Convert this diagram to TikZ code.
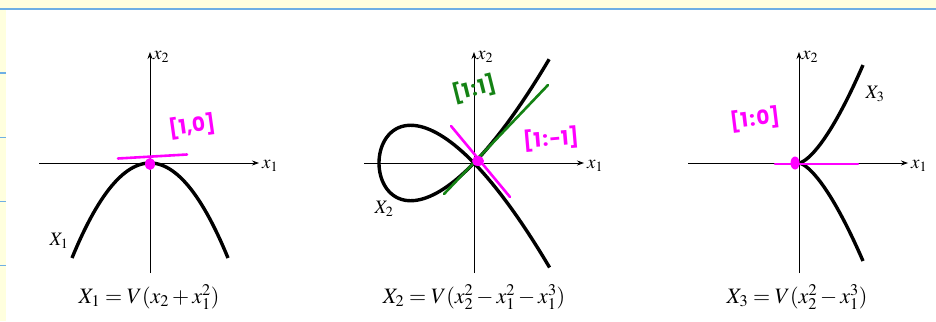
\documentclass[tikz,border=0pt]{standalone}
\usepackage{mathptmx}
\usepackage[no-math]{fontspec}
\newfontfamily\handfont{Poppins}
\usetikzlibrary{arrows.meta}
\definecolor{padyellow}{RGB}{255,255,222}
\definecolor{padblue}{RGB}{110,175,228}
\definecolor{inkmag}{RGB}{255,0,255}
\definecolor{inkgreen}{RGB}{20,130,20}
\newcommand{\hcol}{\kern1.5pt:\kern1.5pt}
\tikzset{
  axis/.style={line width=0.8pt,-{Stealth[length=7pt,width=5pt]}},
  curve/.style={line width=3.4pt,line cap=butt},
  lbl/.style={inner sep=0pt,font=\fontsize{19}{22}\selectfont},
  captext/.style={inner sep=0pt,font=\fontsize{22}{26}\selectfont},
  hand/.style={inner sep=0pt,font=\handfont\bfseries\fontsize{20}{23}\selectfont},
  magline/.style={inkmag,line width=2.6pt,line cap=round},
  grnline/.style={inkgreen,line width=2.6pt,line cap=round},
}
\begin{document}
\begin{tikzpicture}[x=1pt,y=-1pt]
\useasboundingbox (0,0) rectangle (936,321);
% background
\fill[white] (0,0) rectangle (936,321);
\fill[padyellow] (0,0) rectangle (936,8);
\fill[padblue] (0,8) rectangle (936,9.6);
\fill[padyellow] (0,9.6) rectangle (6,321);
\foreach \yy in {72,136.5,200.5,264.5} \fill[padblue] (0,\yy) rectangle (6,\yy+1.6);

% ---------- panel 1 ----------
\coordinate (o1) at (150,163);
\coordinate (a1l) at (39,163);
\coordinate (a1r) at (259,163);
\coordinate (a1b) at (150,273);
\coordinate (a1t) at (150,52);
\draw[axis] (a1l) -- (a1r);
\draw[axis] (a1b) -- (a1t);
\node[lbl,anchor=west] (x1a) at (262,166) {$x_1$};
\node[lbl,anchor=west] (x2a) at (153,57) {$x_2$};
\draw[curve] plot[domain=-78:78,samples=60] ({150+\x},{163+95*(\x/78)^2});
\node[lbl] (X1) at (59,241) {$X_1$};
\node[captext] (c1) at (149,297) {$X_1=V(x_2+x_1^2)$};
\coordinate (m1a) at (118,158.5);
\coordinate (m1b) at (187,154.5);
\draw[magline] (m1a) -- (m1b);
\fill[inkmag] (150,164) ellipse (5pt and 6pt);
\node[hand,inkmag,rotate=8] (t1) at (192,126) {[1,0]};

% ---------- panel 2 ----------
\coordinate (o2) at (474,163);
\coordinate (a2l) at (364,163);
\coordinate (a2r) at (584,163);
\coordinate (a2b) at (474,273);
\coordinate (a2t) at (474,52);
\draw[axis] (a2l) -- (a2r);
\draw[axis] (a2b) -- (a2t);
\node[lbl,anchor=west] (x1b) at (587,166) {$x_1$};
\node[lbl,anchor=west] (x2b) at (477,57) {$x_2$};
\draw[curve] plot[domain=-1.34:1.34,samples=120,variable=\t] ({474+95*(\t*\t-1)},{163-98*\t*(\t*\t-1)});
\node[lbl] (X2) at (384,209) {$X_2$};
\node[captext] (c2) at (474,297) {$X_2=V(x_2^2-x_1^2-x_1^3)$};
\coordinate (g2a) at (444,194);
\coordinate (g2b) at (548,85);
\draw[grnline] (g2a) -- (g2b);
\coordinate (m2a) at (451,126);
\coordinate (m2b) at (510,197);
\draw[magline] (m2a) -- (m2b);
\fill[inkmag] (478,161) ellipse (6pt and 5pt);
\node[hand,inkgreen,rotate=14] (t2) at (474,89) {[1\hcol1]};
\node[hand,inkmag,rotate=5] (t3) at (551,139) {[1\hcol-1]};

% ---------- panel 3 ----------
\coordinate (o3) at (799,163);
\coordinate (a3l) at (688,163);
\coordinate (a3r) at (908,163);
\coordinate (a3b) at (799,273);
\coordinate (a3t) at (799,52);
\draw[axis] (a3l) -- (a3r);
\draw[axis] (a3b) -- (a3t);
\node[lbl,anchor=west] (x1c) at (911,166) {$x_1$};
\node[lbl,anchor=west] (x2c) at (802,57) {$x_2$};
\draw[curve] plot[domain=-1:1,samples=80,variable=\t] ({799+64*\t*\t},{163-98*\t*\t*\t});
\node[lbl] (X3) at (875,94) {$X_3$};
\node[captext] (c3) at (797,297) {$X_3=V(x_2^2-x_1^3)$};
\coordinate (m3a) at (775,164);
\coordinate (m3b) at (858,164);
\draw[magline] (m3a) -- (m3b);
\fill[inkmag] (795,163) ellipse (4.5pt and 6.5pt);
\node[hand,inkmag,rotate=7] (t4) at (755,119) {[1\hcol0]};
\end{tikzpicture}
\end{document}
